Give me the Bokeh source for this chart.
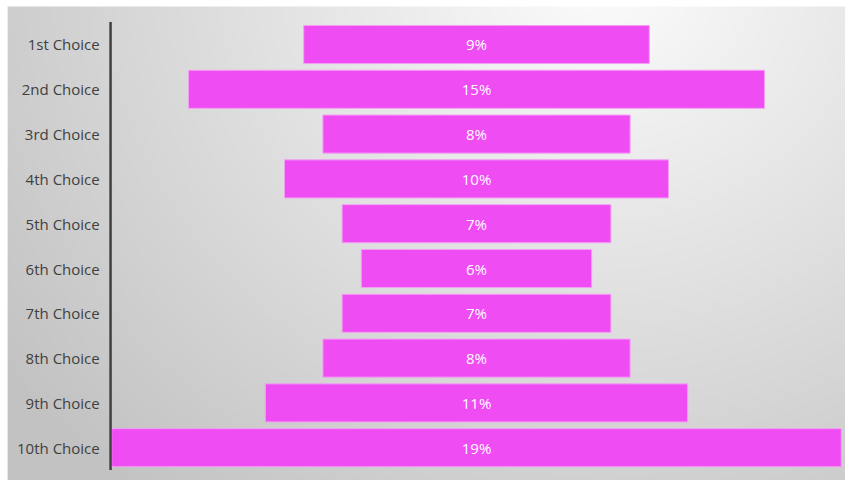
import numpy as np
from bokeh.plotting import figure
from bokeh.models import Range1d
from bokeh.core.properties import value
from bokeh.embed import file_html
from bokeh.resources import INLINE

categories = ["1st Choice", "2nd Choice", "3rd Choice", "4th Choice", "5th Choice",
              "6th Choice", "7th Choice", "8th Choice", "9th Choice", "10th Choice"]
shares = [9, 15, 8, 10, 7, 6, 7, 8, 11, 19]
labels = [f"{v}%" for v in shares]

n = len(categories)
ys = [n - 1 - i for i in range(n)]
lefts = [-v / 2 for v in shares]
rights = [v / 2 for v in shares]

W, H = 845, 480
X0, X1 = -12.396, 9.609
Y0, Y1 = -0.732, 9.982
IX0, IY1 = -12.21, 9.848

p = figure(width=W, height=H, output_backend="svg", toolbar_location=None,
           x_range=Range1d(X0, X1), y_range=Range1d(Y0, Y1),
           min_border=0, border_fill_color="white", background_fill_color="white",
           outline_line_color=None)
p.axis.visible = False
p.grid.visible = False

# radial background gradient (styling)
gh, gw = 237, 419
yy, xx = np.mgrid[0:gh, 0:gw]
px = 7 + xx * (838 / gw)
py = 6 + (gh - 1 - yy) * (474 / gh)  # row 0 is bottom
d = np.sqrt((px - 600) ** 2 + ((py + 20) / 0.9) ** 2)
g = np.clip(252 - d * 0.078, 194, 252).astype(np.uint32)
img = (255 << 24) | (g << 16) | (g << 8) | g
p.image_rgba(image=[img.astype(np.uint32)], x=IX0, y=Y0, dw=X1 - IX0, dh=IY1 - Y0)

p.hbar(y=ys, left=lefts, right=rights, height=0.85,
       fill_color="#EF4CF4", line_color="#F3A0F3", line_width=1)

p.segment(x0=[-9.53], y0=[-0.5], x1=[-9.53], y1=[n - 0.5], line_color="#404040", line_width=2.5)

p.text(x=[-9.5] * n, y=ys, text=categories, text_align="right", text_baseline="middle",
       x_offset=-12, text_font=value("Open Sans"), text_font_size="15px", text_color="#404040")
p.text(x=[0] * n, y=ys, text=labels, text_align="center", text_baseline="middle",
       text_font=value("Open Sans"), text_font_size="15px", text_color="white")

open("out.html", "w").write(file_html(p, INLINE))
